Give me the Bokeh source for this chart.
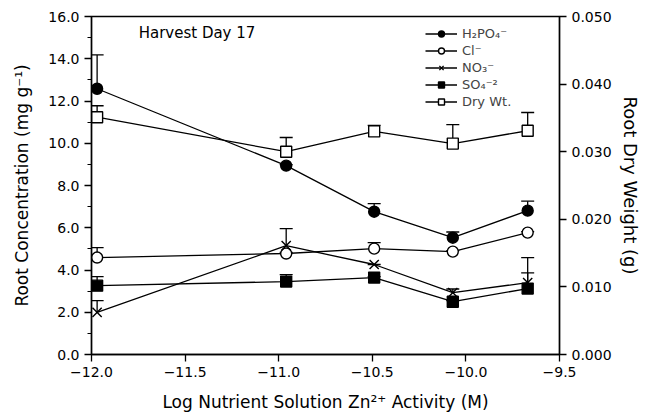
from bokeh.plotting import figure
from bokeh.models import (Range1d, LinearAxis, FixedTicker, Legend, LegendItem,
                          PrintfTickFormatter, CustomJSTickFormatter, Label)
from bokeh.embed import file_html
from bokeh.resources import INLINE

# ---- data ----
zn_activity = [-11.97, -10.96, -10.49, -10.07, -9.67]
h2po4 = [12.58, 8.94, 6.76, 5.53, 6.81]
h2po4_se = [1.60, 0.05, 0.38, 0.27, 0.45]
cl = [4.59, 4.78, 5.01, 4.87, 5.77]
cl_se = [0.47, 0.05, 0.29, 0.05, 0.05]
no3 = [1.99, 5.15, 4.26, 2.93, 3.40]
no3_se = [0.56, 0.81, 0.0, 0.17, 1.19]
so4 = [3.26, 3.45, 3.64, 2.50, 3.12]
so4_se = [0.43, 0.33, 0.05, 0.05, 0.74]
dry_wt = [0.0351, 0.0300, 0.0330, 0.0312, 0.0331]
dry_wt_se = [0.0017, 0.0021, 0.0009, 0.0028, 0.0027]

x_ticks = [-12.0, -11.5, -11.0, -10.5, -10.0, -9.5]
left_ticks = [0, 2, 4, 6, 8, 10, 12, 14, 16]
left_minor = [1, 3, 5, 7, 9, 11, 13, 15]
right_ticks = [0.0, 0.01, 0.02, 0.03, 0.04, 0.05]

FONT = "DejaVu Sans"

p = figure(width=650, height=416, output_backend="svg", toolbar_location=None,
           x_range=Range1d(-12.0, -9.5), y_range=Range1d(0, 16),
           min_border_left=91, min_border_right=91, min_border_top=16, min_border_bottom=62)
p.extra_y_ranges = {"right": Range1d(0, 0.05)}
p.xgrid.visible = False
p.ygrid.visible = False
p.outline_line_color = "black"
p.outline_line_width = 1.3
p.background_fill_color = "white"
p.border_fill_color = "white"

def style_axis(ax):
    ax.axis_line_color = "black"
    ax.axis_line_width = 1.5
    ax.major_tick_line_color = "black"
    ax.major_tick_line_width = 1.3
    ax.minor_tick_line_color = "black"
    ax.major_tick_out = 7
    ax.major_tick_in = 0
    ax.minor_tick_out = 4
    ax.minor_tick_in = 0
    ax.major_label_text_font = FONT
    ax.major_label_text_font_size = "14px"
    ax.major_label_text_color = "black"
    ax.axis_label_text_font = FONT
    ax.axis_label_text_font_size = "17px"
    ax.axis_label_text_font_style = "normal"
    ax.axis_label_text_color = "black"

xa = p.xaxis[0]
xa.ticker = FixedTicker(ticks=x_ticks, minor_ticks=[])
xa.formatter = CustomJSTickFormatter(code="return tick.toFixed(1).replace('-', '\u2212');")
xa.axis_label = "Log Nutrient Solution Zn\u00b2\u207a Activity (M)"
style_axis(xa)
xa.axis_label_standoff = 12

ya = p.yaxis[0]
ya.ticker = FixedTicker(ticks=left_ticks, minor_ticks=left_minor)
ya.formatter = PrintfTickFormatter(format="%.1f")
ya.axis_label = "Root Concentration (mg g\u207b\u00b9)"
style_axis(ya)
ya.axis_label_standoff = 13

ra = LinearAxis(y_range_name="right", axis_label="Root Dry Weight (g)")
ra.ticker = FixedTicker(ticks=right_ticks, minor_ticks=[])
ra.formatter = PrintfTickFormatter(format="%.3f")
style_axis(ra)
ra.axis_label_text_font_size = "18px"
ra.axis_label_standoff = 5
p.add_layout(ra, "right")

items = []

def series(name, ys, se, marker, fill, y_range_name="default"):
    tops = [a + b for a, b in zip(ys, se)]
    kw = {} if y_range_name == "default" else {"y_range_name": y_range_name}
    p.segment(zn_activity, ys, zn_activity, tops, line_color="black", line_width=1.3, **kw)
    p.scatter(zn_activity, tops, marker="dash", size=13, line_color="black", line_width=1.3, **kw)
    ln = p.line(zn_activity, ys, line_color="black", line_width=1.3, **kw)
    sc = p.scatter(zn_activity, ys, marker=marker, size=11 if marker != "x" else 13,
                   line_color="black", fill_color=fill, line_width=1.4, **kw)
    items.append(LegendItem(label=name, renderers=[ln, sc]))

series("H\u2082PO\u2084\u207b", h2po4, h2po4_se, "circle", "black")
series("Cl\u207b", cl, cl_se, "circle", "white")
series("NO\u2083\u207b", no3, no3_se, "x", "black")
series("SO\u2084\u207b\u00b2", so4, so4_se, "square", "black")
series("Dry Wt.", dry_wt, dry_wt_se, "square", "white", y_range_name="right")

legend = Legend(items=items, location=(334, 245), glyph_width=32, glyph_height=15,
                spacing=2, padding=2, margin=0, label_standoff=5,
                label_text_font=FONT, label_text_font_size="13px",
                label_height=15, border_line_color=None, background_fill_alpha=0)
p.add_layout(legend, "center")

p.add_layout(Label(x=-11.748, y=15.22, text="Harvest Day 17", text_font=FONT,
                   text_font_size="15px", text_baseline="middle", text_color="black"))

open("out.html", "w").write(file_html(p, INLINE))
